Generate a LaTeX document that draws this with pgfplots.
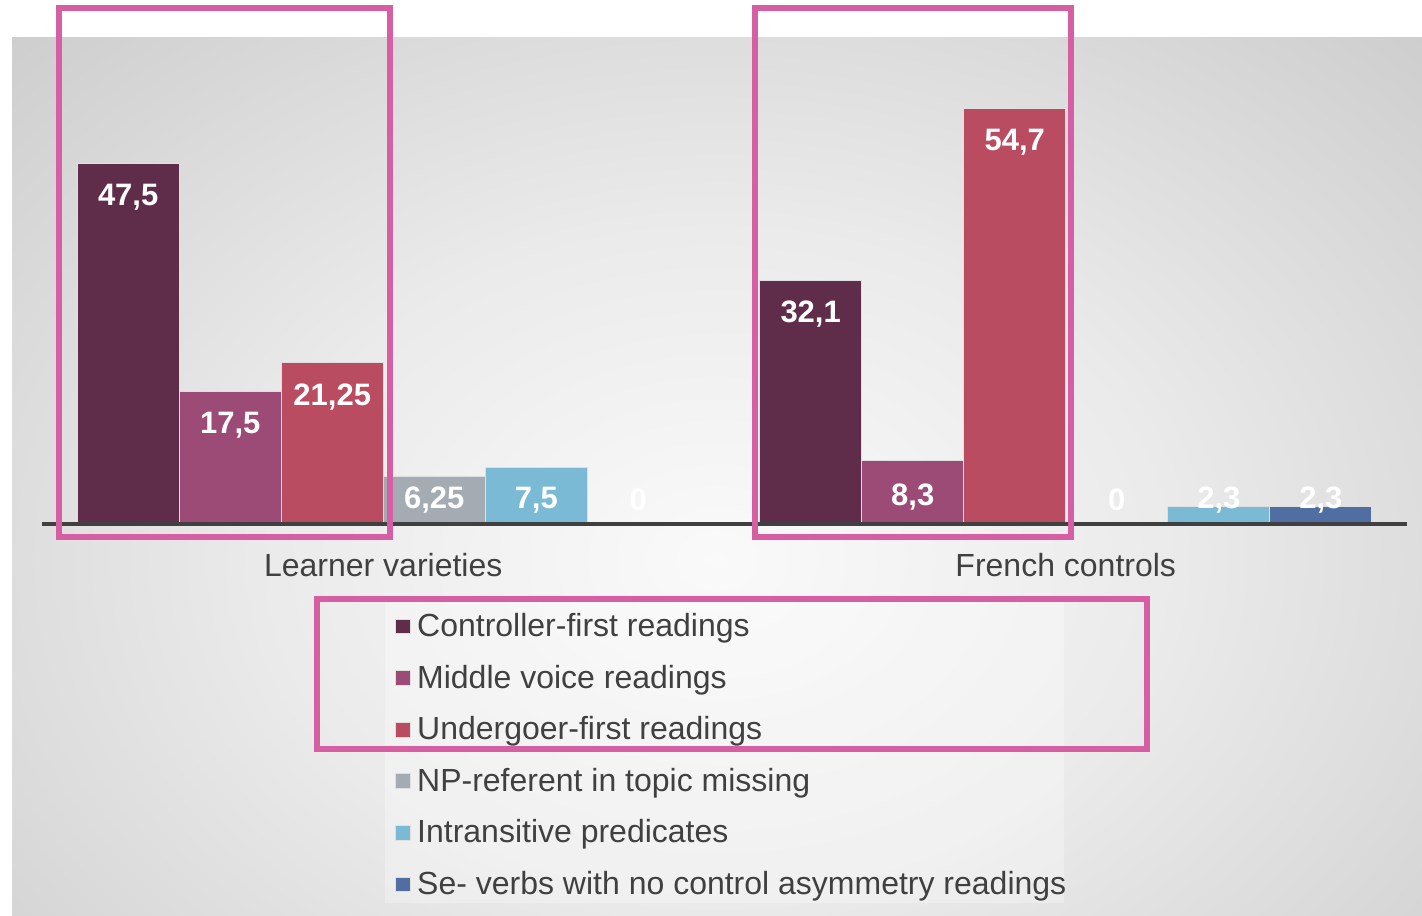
\documentclass[border=0pt]{standalone}
\usepackage{pgfplots}
\usepackage{pgfplotstable}
\pgfplotsset{compat=1.18}
\usepackage{fontspec}
\setmainfont{Liberation Sans}
\definecolor{cA}{HTML}{5F2D4A}
\definecolor{cB}{HTML}{9C4A76}
\definecolor{cC}{HTML}{B94C60}
\definecolor{cD}{HTML}{A5ABB3}
\definecolor{cE}{HTML}{7BBAD4}
\definecolor{cF}{HTML}{516EA3}
\definecolor{pinkbox}{HTML}{D65FA4}
\definecolor{axisgray}{HTML}{404040}
\pgfdeclareradialshading{bgshade}{\pgfpoint{0bp}{0bp}}{color(0bp)=(white!98!black); color(16bp)=(white!92!black); color(42bp)=(white!77!black); color(75bp)=(white!71!black)}

% series: group position (0 = Learner varieties, 1 = French controls), value
\pgfplotstableread{
g v
0 47.5
1 32.1
}\serA
\pgfplotstableread{
g v
0 17.5
1 8.3
}\serB
\pgfplotstableread{
g v
0 21.25
1 54.7
}\serC
\pgfplotstableread{
g v
0 6.25
1 0
}\serD
\pgfplotstableread{
g v
0 7.5
1 2.3
}\serE
\pgfplotstableread{
g v
0 0
1 2.3
}\serF
% value labels: x position, label height, text
\pgfplotstableread{
x y lab
-0.37375 43.0 47,5
-0.22425 13.0 17,5
-0.07475 16.75 21,25
0.07475 3.15 6,25
0.22425 3.15 7,5
0.37375 3.15 0
0.62625 27.6 32,1
0.77575 3.6 8,3
0.92525 50.2 54,7
1.07475 3.15 0
1.22425 3.15 2,3
1.37375 3.15 2,3
}\labtab

\begin{document}
\begin{tikzpicture}
\begin{scope}[x=0.5pt,y=-0.5pt]
\path[use as bounding box] (0,0) rectangle (1422,915);
\begin{scope}
\clip (12,38) rectangle (1422,915);
\shade[shading=bgshade] (12,38) rectangle (1422,1082);
\end{scope}
\fill[white, opacity=0.3] (385,600) rectangle (1064,903);
\end{scope}

\begin{axis}[
  at={(21pt,-262pt)}, anchor=south west,
  scale only axis, width=682.5pt, height=228pt,
  xmin=-0.5, xmax=1.5, ymin=0, ymax=60,
  enlargelimits=false, clip=false, axis on top,
  axis x line*=bottom, axis y line=none,
  x axis line style={line width=2pt, draw=axisgray},
  xtick={0,1}, xticklabels={Learner varieties, French controls},
  major tick length=0pt,
  xticklabel style={anchor=base, yshift=-26pt, font=\fontsize{16}{19}\selectfont, text=axisgray},
  ytick={10,20,30,40,50,60}, yticklabels={},
  ymajorgrids, grid style={draw=black, opacity=0.07, line width=1pt},
  bar width=0.1495,
  legend style={at={(0.2542,-0.1755)}, anchor=north west, draw=none, fill=none,
    font=\fontsize{16}{19}\selectfont, text=axisgray, row sep=9.7pt, column sep=1.5pt,
    inner xsep=3pt, inner ysep=3pt,
    nodes={inner sep=1.5pt}},
  legend cell align=left,
  legend image code/.code={\fill[#1] (0pt,-3.7pt) rectangle (7.4pt,3.7pt);},
]
\addplot[ybar, bar shift=-0.37375, fill=cA, draw=white!75!gray, line width=0.5pt] table[x=g,y=v] {\serA};
\addlegendentry{Controller-first readings}
\addplot[ybar, bar shift=-0.22425, fill=cB, draw=white!75!gray, line width=0.5pt] table[x=g,y=v] {\serB};
\addlegendentry{Middle voice readings}
\addplot[ybar, bar shift=-0.07475, fill=cC, draw=white!75!gray, line width=0.5pt] table[x=g,y=v] {\serC};
\addlegendentry{Undergoer-first readings}
\addplot[ybar, bar shift=0.07475, fill=cD, draw=white!75!gray, line width=0.5pt] table[x=g,y=v] {\serD};
\addlegendentry{NP-referent in topic missing}
\addplot[ybar, bar shift=0.22425, fill=cE, draw=white!75!gray, line width=0.5pt] table[x=g,y=v] {\serE};
\addlegendentry{Intransitive predicates}
\addplot[ybar, bar shift=0.37375, fill=cF, draw=white!75!gray, line width=0.5pt] table[x=g,y=v] {\serF};
\addlegendentry{Se- verbs with no control asymmetry readings}
\addplot[only marks, mark=none, point meta=explicit symbolic, nodes near coords,
  nodes near coords style={anchor=center, text=white, font=\fontsize{15.5}{18}\bfseries}]
  table[x=x,y=y,meta=lab] {\labtab};
\end{axis}

\begin{scope}[x=0.5pt,y=-0.5pt]
\draw[pinkbox, line width=3pt] (59,8) rectangle (390,537);
\draw[pinkbox, line width=3pt] (755,8) rectangle (1071,537);
\draw[pinkbox, line width=3pt] (317,599) rectangle (1147,749);
\end{scope}
\end{tikzpicture}
\end{document}
